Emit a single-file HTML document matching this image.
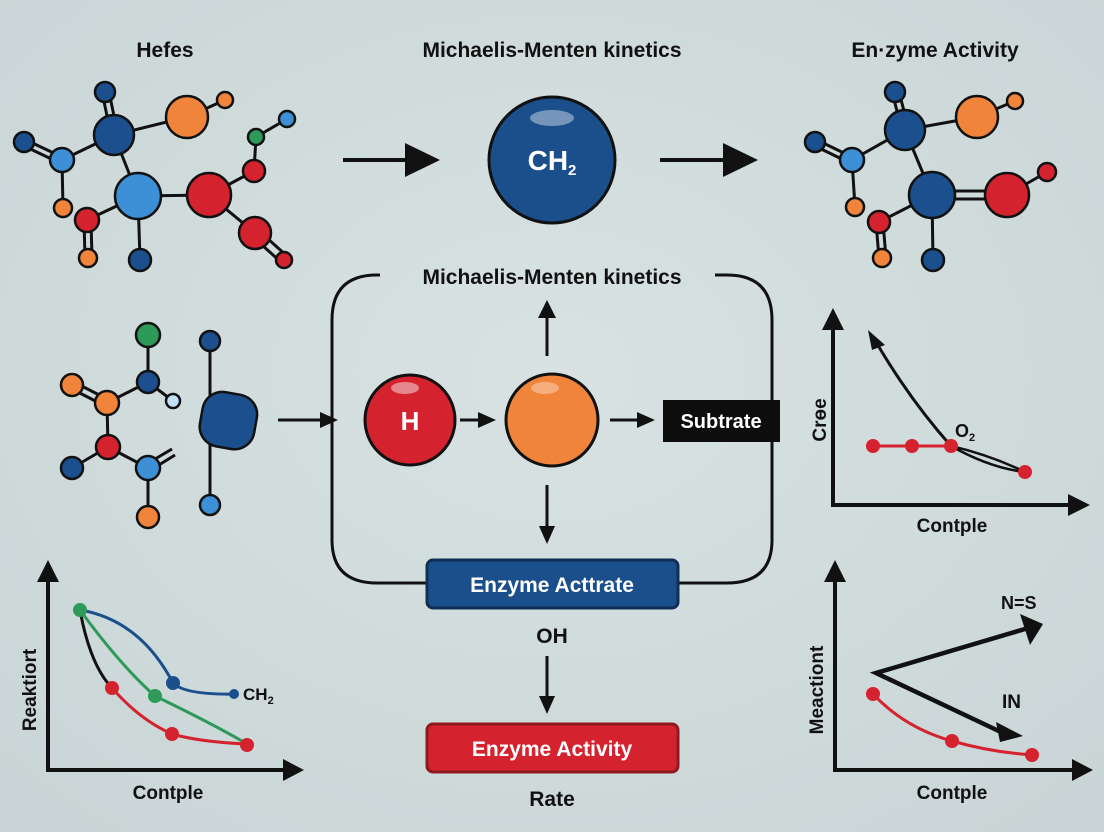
<!DOCTYPE html>
<html><head><meta charset="utf-8"><style>
html,body{margin:0;padding:0;background:#d0dbdb;}
svg{display:block;}
text{font-family:"Liberation Sans",sans-serif;fill:#111;}
</style></head><body>
<svg width="1104" height="832" viewBox="0 0 1104 832" xmlns="http://www.w3.org/2000/svg">
<defs>
<radialGradient id="bg" cx="50%" cy="45%" r="70%"><stop offset="0" stop-color="#d8e2e2"/><stop offset="1" stop-color="#c9d5d6"/></radialGradient>
<marker id="ah" markerWidth="18" markerHeight="18" refX="4" refY="9" orient="auto" markerUnits="userSpaceOnUse" viewBox="0 0 18 18"><path d="M0,1 L18,9 L0,17 z" fill="#111"/></marker>
</defs>
<rect width="1104" height="832" fill="url(#bg)"/>

<text x="165" y="57" font-size="21" font-weight="bold" text-anchor="middle">Hefes</text>
<text x="552" y="57" font-size="21" font-weight="bold" text-anchor="middle">Michaelis-Menten kinetics</text>
<text x="935" y="57" font-size="21" font-weight="bold" text-anchor="middle">En·zyme Activity</text>

<g stroke="#111" stroke-width="3" fill="none">
<line x1="102" y1="92" x2="111" y2="135"/><line x1="109" y1="92" x2="118" y2="135"/>
<line x1="114" y1="135" x2="187" y2="117"/><line x1="187" y1="117" x2="225" y2="100"/>
<line x1="24" y1="139" x2="62" y2="157"/><line x1="24" y1="146" x2="62" y2="164"/>
<line x1="62" y1="160" x2="114" y2="135"/><line x1="114" y1="135" x2="138" y2="196"/>
<line x1="62" y1="160" x2="63" y2="208"/><line x1="87" y1="220" x2="138" y2="196"/>
<line x1="84" y1="220" x2="85" y2="258"/><line x1="91" y1="220" x2="92" y2="258"/>
<line x1="138" y1="196" x2="140" y2="260"/><line x1="138" y1="196" x2="209" y2="195"/>
<line x1="209" y1="195" x2="254" y2="171"/><line x1="254" y1="171" x2="256" y2="137"/>
<line x1="256" y1="137" x2="287" y2="119"/><line x1="209" y1="195" x2="255" y2="233"/>
<line x1="253" y1="237" x2="282" y2="263"/><line x1="258" y1="230" x2="287" y2="256"/>
<line x1="148" y1="335" x2="148" y2="382"/><line x1="148" y1="382" x2="173" y2="401"/>
<line x1="148" y1="382" x2="107" y2="403"/>
<line x1="72" y1="381" x2="107" y2="399"/><line x1="72" y1="389" x2="107" y2="407"/>
<line x1="107" y1="403" x2="108" y2="447"/><line x1="108" y1="447" x2="72" y2="468"/>
<line x1="108" y1="447" x2="148" y2="468"/><line x1="148" y1="468" x2="148" y2="517"/>
<line x1="150" y1="462" x2="172" y2="449"/><line x1="154" y1="468" x2="175" y2="455"/>
<line x1="210" y1="341" x2="210" y2="505"/>
<line x1="892" y1="92" x2="902" y2="130"/><line x1="899" y1="92" x2="909" y2="130"/>
<line x1="905" y1="130" x2="977" y2="117"/><line x1="977" y1="117" x2="1015" y2="101"/>
<line x1="815" y1="139" x2="852" y2="157"/><line x1="815" y1="146" x2="852" y2="164"/>
<line x1="852" y1="160" x2="905" y2="130"/><line x1="905" y1="130" x2="932" y2="195"/>
<line x1="852" y1="160" x2="855" y2="207"/><line x1="879" y1="222" x2="932" y2="195"/>
<line x1="876" y1="222" x2="879" y2="258"/><line x1="883" y1="222" x2="886" y2="258"/>
<line x1="932" y1="195" x2="933" y2="260"/>
<line x1="932" y1="191" x2="1007" y2="191"/><line x1="932" y1="199" x2="1007" y2="199"/>
<line x1="1007" y1="195" x2="1047" y2="172"/>
</g>

<g stroke="#111" stroke-width="2.5">
<circle cx="105" cy="92" r="10" fill="#1b4f8e"/>
<circle cx="114" cy="135" r="20" fill="#1b4f8e"/>
<circle cx="187" cy="117" r="21" fill="#f0843a"/>
<circle cx="225" cy="100" r="8" fill="#f0843a"/>
<circle cx="24" cy="142" r="10" fill="#1b4f8e"/>
<circle cx="62" cy="160" r="12" fill="#3d8fd6"/>
<circle cx="138" cy="196" r="23" fill="#3d8fd6"/>
<circle cx="209" cy="195" r="22" fill="#d4232f"/>
<circle cx="256" cy="137" r="8" fill="#2e9a5a"/>
<circle cx="287" cy="119" r="8" fill="#3d8fd6"/>
<circle cx="254" cy="171" r="11" fill="#d4232f"/>
<circle cx="255" cy="233" r="16" fill="#d4232f"/>
<circle cx="284" cy="260" r="8" fill="#d4232f"/>
<circle cx="63" cy="208" r="9" fill="#f0843a"/>
<circle cx="87" cy="220" r="12" fill="#d4232f"/>
<circle cx="88" cy="258" r="9" fill="#f0843a"/>
<circle cx="140" cy="260" r="11" fill="#1b4f8e"/>
<circle cx="148" cy="335" r="12" fill="#2e9a5a"/>
<circle cx="148" cy="382" r="11" fill="#1b4f8e"/>
<circle cx="173" cy="401" r="7" fill="#bfe0f5"/>
<circle cx="72" cy="385" r="11" fill="#f0843a"/>
<circle cx="107" cy="403" r="12" fill="#f0843a"/>
<circle cx="108" cy="447" r="12" fill="#d4232f"/>
<circle cx="72" cy="468" r="11" fill="#1b4f8e"/>
<circle cx="148" cy="468" r="12" fill="#3d8fd6"/>
<circle cx="148" cy="517" r="11" fill="#f0843a"/>
<circle cx="210" cy="341" r="10" fill="#1b4f8e"/>
<circle cx="210" cy="505" r="10" fill="#3d8fd6"/>
<rect x="201" y="393" width="55" height="55" rx="20" transform="rotate(10 228 420)" fill="#1b4f8e"/>
<circle cx="895" cy="92" r="10" fill="#1b4f8e"/>
<circle cx="905" cy="130" r="20" fill="#1b4f8e"/>
<circle cx="977" cy="117" r="21" fill="#f0843a"/>
<circle cx="1015" cy="101" r="8" fill="#f0843a"/>
<circle cx="815" cy="142" r="10" fill="#1b4f8e"/>
<circle cx="852" cy="160" r="12" fill="#3d8fd6"/>
<circle cx="932" cy="195" r="23" fill="#1b4f8e"/>
<circle cx="1007" cy="195" r="22" fill="#d4232f"/>
<circle cx="1047" cy="172" r="9" fill="#d4232f"/>
<circle cx="855" cy="207" r="9" fill="#f0843a"/>
<circle cx="879" cy="222" r="11" fill="#d4232f"/>
<circle cx="882" cy="258" r="9" fill="#f0843a"/>
<circle cx="933" cy="260" r="11" fill="#1b4f8e"/>
</g>

<g stroke="#111" stroke-width="4">
<line x1="343" y1="160" x2="410" y2="160"/><line x1="660" y1="160" x2="728" y2="160"/>
</g>
<path d="M405,143 L440,160 L405,177z M723,143 L758,160 L723,177z" fill="#111"/>
<circle cx="552" cy="160" r="63" fill="#1a4f8c" stroke="#111" stroke-width="3"/>
<ellipse cx="552" cy="118" rx="22" ry="8" fill="#fff" opacity="0.4"/>
<text x="552" y="170" font-size="28" font-weight="bold" text-anchor="middle" style="fill:#fff">CH<tspan font-size="15" dy="5">2</tspan></text>

<path d="M380,275 L377,275 Q332,275 332,320 L332,540 Q332,583 377,583 L427,583" fill="none" stroke="#111" stroke-width="3"/>
<path d="M715,275 L727,275 Q772,275 772,320 L772,540 Q772,583 727,583 L678,583" fill="none" stroke="#111" stroke-width="3"/>
<text x="552" y="284" font-size="21" font-weight="bold" text-anchor="middle">Michaelis-Menten kinetics</text>

<g stroke="#111" stroke-width="3" fill="none" marker-end="url(#ah)">
<line x1="278" y1="420" x2="324" y2="420"/>
<line x1="460" y1="420" x2="482" y2="420"/>
<line x1="610" y1="420" x2="641" y2="420"/>
<line x1="547" y1="485" x2="547" y2="530"/>
<line x1="547" y1="656" x2="547" y2="700"/>
</g>
<line x1="547" y1="356" x2="547" y2="315" stroke="#111" stroke-width="3"/>
<path d="M538,318 L547,300 L556,318z" fill="#111"/>

<circle cx="410" cy="420" r="45" fill="#d4232f" stroke="#111" stroke-width="3"/>
<ellipse cx="405" cy="388" rx="14" ry="6" fill="#fff" opacity="0.45"/>
<text x="410" y="430" font-size="26" font-weight="bold" text-anchor="middle" style="fill:#fff">H</text>
<circle cx="552" cy="420" r="46" fill="#f0843a" stroke="#111" stroke-width="3"/>
<ellipse cx="545" cy="388" rx="14" ry="6" fill="#fff" opacity="0.35"/>
<rect x="663" y="400" width="117" height="42" fill="#0d0d0d"/>
<text x="721" y="428" font-size="20" font-weight="bold" text-anchor="middle" style="fill:#fff">Subtrate</text>

<rect x="427" y="560" width="251" height="48" rx="6" fill="#1a4f8c" stroke="#0e2f55" stroke-width="3"/>
<text x="552" y="592" font-size="21" font-weight="bold" text-anchor="middle" style="fill:#fff">Enzyme Acttrate</text>
<text x="552" y="643" font-size="21" font-weight="bold" text-anchor="middle">OH</text>
<rect x="427" y="724" width="251" height="48" rx="6" fill="#d4232f" stroke="#8e1a20" stroke-width="3"/>
<text x="552" y="756" font-size="21" font-weight="bold" text-anchor="middle" style="fill:#fff">Enzyme Activity</text>
<text x="552" y="806" font-size="21" font-weight="bold" text-anchor="middle">Rate</text>

<polyline points="833,325 833,505 1070,505" fill="none" stroke="#111" stroke-width="4"/>
<path d="M822,330 L833,308 L844,330z M1068,494 L1090,505 L1068,516z" fill="#111"/>
<text transform="translate(826,420) rotate(-90)" font-size="19" font-weight="bold" text-anchor="middle">Crөe</text>
<path d="M951,446 Q910,400 876,342" fill="none" stroke="#111" stroke-width="3"/>
<path d="M868,330 L885,345 L872,350z" fill="#111"/>
<path d="M951,446 Q990,455 1025,472 Q990,468 951,446" fill="none" stroke="#111" stroke-width="2.5"/>
<line x1="873" y1="446" x2="951" y2="446" stroke="#d4232f" stroke-width="3"/>
<g fill="#d4232f"><circle cx="873" cy="446" r="7"/><circle cx="912" cy="446" r="7"/><circle cx="951" cy="446" r="7"/><circle cx="1025" cy="472" r="7"/></g>
<text x="955" y="437" font-size="18" font-weight="bold">O<tspan font-size="11" dy="4">2</tspan></text>
<text x="952" y="532" font-size="19" font-weight="bold" text-anchor="middle">Contple</text>

<polyline points="48,580 48,770 285,770" fill="none" stroke="#111" stroke-width="4"/>
<path d="M37,582 L48,560 L59,582z M283,759 L304,770 L283,781z" fill="#111"/>
<text transform="translate(36,690) rotate(-90)" font-size="19" font-weight="bold" text-anchor="middle">Reaktiort</text>
<path d="M80,610 Q90,665 112,688" fill="none" stroke="#111" stroke-width="3"/>
<path d="M80,610 Q140,620 173,683 Q185,695 235,694" fill="none" stroke="#1a4f8c" stroke-width="3"/>
<path d="M80,610 Q120,665 155,696 Q215,725 247,744" fill="none" stroke="#2e9a5a" stroke-width="3"/>
<path d="M112,688 Q140,720 172,734 Q200,742 247,744" fill="none" stroke="#d4232f" stroke-width="3"/>
<circle cx="173" cy="683" r="7" fill="#1a4f8c"/><circle cx="234" cy="694" r="5" fill="#1a4f8c"/>
<circle cx="80" cy="610" r="7" fill="#2e9a5a"/><circle cx="155" cy="696" r="7" fill="#2e9a5a"/>
<circle cx="112" cy="688" r="7" fill="#d4232f"/><circle cx="172" cy="734" r="7" fill="#d4232f"/><circle cx="247" cy="745" r="7" fill="#d4232f"/>
<text x="243" y="700" font-size="17" font-weight="bold">CH<tspan font-size="11" dy="4">2</tspan></text>
<text x="168" y="799" font-size="19" font-weight="bold" text-anchor="middle">Contple</text>

<polyline points="835,580 835,770 1075,770" fill="none" stroke="#111" stroke-width="4"/>
<path d="M824,582 L835,560 L846,582z M1072,759 L1093,770 L1072,781z" fill="#111"/>
<text transform="translate(823,690) rotate(-90)" font-size="19" font-weight="bold" text-anchor="middle">Meactiont</text>
<polyline points="1025,629 876,673 1003,733" fill="none" stroke="#111" stroke-width="4.5"/>
<path d="M1020,614 L1043,624 L1030,645z M996,722 L1023,736 L1000,742z" fill="#111"/>
<text x="1001" y="609" font-size="18" font-weight="bold">N=S</text>
<text x="1002" y="708" font-size="19" font-weight="bold">IN</text>
<path d="M873,694 Q905,728 952,741 Q990,752 1032,755" fill="none" stroke="#d4232f" stroke-width="3"/>
<g fill="#d4232f"><circle cx="873" cy="694" r="7"/><circle cx="952" cy="741" r="7"/><circle cx="1032" cy="755" r="7"/></g>
<text x="952" y="799" font-size="19" font-weight="bold" text-anchor="middle">Contple</text>
</svg>
</body></html>
